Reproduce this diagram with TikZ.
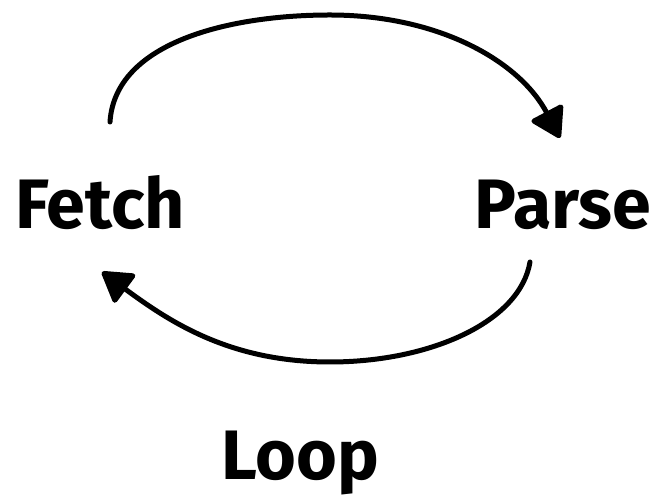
\documentclass[tikz,border=0pt]{standalone}
\usepackage{fontspec}
\setmainfont{Fira Sans}
\usetikzlibrary{arrows.meta}
\tikzset{
  lbl/.style={font=\fontsize{70}{70}\selectfont\bfseries, inner sep=0pt, anchor=base},
  conn/.style={line width=5pt, line cap=round, line join=round,
    -{Triangle[length=32pt,width=38pt,round]}}
}
\begin{document}
\begin{tikzpicture}[x=1pt,y=1pt]
\useasboundingbox (0,0) rectangle (659,502);
\node[lbl] (fetch) at (100,273) {Fetch};
\node[lbl] (parse) at (563,273) {Parse};
\node[lbl] (loop) at (300,22) {Loop};
\coordinate (a1s) at (110,380);
\coordinate (a1e) at (560,364);
\coordinate (a2s) at (530,240);
\coordinate (a2e) at (102,230);
\draw[conn] (a1s) .. controls (115,460) and (230,487) .. (330,487)
  .. controls (440,487) and (520,440) .. (a1e);
\draw[conn] (a2s) .. controls (520,180) and (430,140) .. (330,140)
  .. controls (230,140) and (170,180) .. (a2e);
\end{tikzpicture}
\end{document}
